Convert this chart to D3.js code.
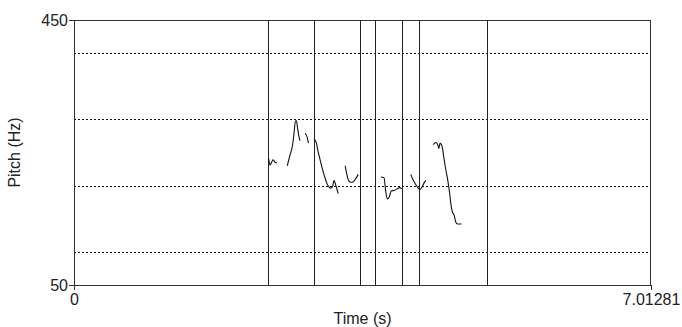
<!DOCTYPE html>
<html>
<head>
<meta charset="utf-8">
<script src="https://cdn.jsdelivr.net/npm/d3@7"></script>
<style>
  body { margin: 0; background: #fff; }
  text { font-family: "Liberation Sans", Arial, sans-serif; fill: #222; }
</style>
</head>
<body>
<svg id="chart" width="682" height="327"></svg>
<script>
// axis range
const timeMax = 7.01281;
const pitchMin = 50;
const pitchMax = 450;
const gridPitches = [100, 200, 300, 400];

// interval boundaries (s)
const boundaries = [2.358, 2.911, 3.476, 3.664, 3.990, 4.191, 5.023];

// pitch contour pieces: [time (s), pitch (Hz)]
const seg1 = [[2.366, 241], [2.382, 231], [2.398, 234], [2.419, 239], [2.439, 236], [2.464, 234]];
const seg2 = [[2.592, 230], [2.625, 246], [2.656, 261], [2.674, 279], [2.692, 298], [2.704, 298],
              [2.716, 288], [2.731, 276], [2.747, 268]];
const seg3 = [[2.811, 279], [2.836, 272], [2.850, 264]];
const seg4 = [[2.917, 270], [2.945, 265], [2.959, 256], [2.981, 244], [3.011, 229], [3.045, 214],
              [3.075, 203], [3.099, 198], [3.120, 196], [3.144, 199], [3.160, 208], [3.176, 203],
              [3.193, 196], [3.211, 188]];
const seg5 = [[3.296, 230], [3.318, 216], [3.336, 208], [3.363, 205], [3.395, 206], [3.427, 211], [3.455, 217]];
const seg6 = [[3.731, 213], [3.768, 212], [3.788, 192], [3.808, 180], [3.829, 182], [3.855, 192],
              [3.895, 193], [3.926, 195], [3.952, 197], [3.983, 195]];
const seg7 = [[4.093, 217], [4.124, 208], [4.157, 201], [4.185, 196], [4.205, 194], [4.226, 197],
              [4.250, 203], [4.276, 208]];
const seg8 = [[4.367, 262], [4.396, 265], [4.420, 262], [4.434, 256], [4.448, 264], [4.460, 263],
              [4.479, 256], [4.497, 241], [4.519, 224], [4.543, 208], [4.564, 190], [4.582, 171],
              [4.600, 160], [4.621, 155], [4.640, 145], [4.661, 142], [4.685, 142], [4.710, 142]];
const segments = [seg1, seg2, seg3, seg4, seg5, seg6, seg7, seg8];

var svg = d3.select("#chart");

const plotLeft = 74, plotRight = 651, plotTop = 20, plotBottom = 285;

const x = d3.scaleLinear().domain([0, timeMax]).range([plotLeft, plotRight]);
const y = d3.scaleLinear().domain([pitchMin, pitchMax]).range([plotBottom, plotTop]);

// dotted grid
svg.selectAll(".grid").data(gridPitches).enter()
    .append("line")
    .attr("x1", plotLeft).attr("x2", plotRight)
    .attr("y1", d => Math.round(y(d)) + 0.5).attr("y2", d => Math.round(y(d)) + 0.5)
    .attr("stroke", "#111")
    .attr("stroke-width", 1)
    .attr("stroke-dasharray", "2,2");

// interval boundaries
svg.selectAll(".bound").data(boundaries).enter()
    .append("line")
    .attr("x1", d => Math.round(x(d)) + 0.5).attr("x2", d => Math.round(x(d)) + 0.5)
    .attr("y1", plotTop).attr("y2", plotBottom)
    .attr("stroke", "#222")
    .attr("stroke-width", 1);

// pitch contour
const line = d3.line().x(d => x(d[0])).y(d => y(d[1])).curve(d3.curveMonotoneX);
svg.selectAll(".pitch").data(segments).enter()
    .append("path")
    .attr("d", line)
    .attr("fill", "none")
    .attr("stroke", "#111")
    .attr("stroke-width", 1.1);

// frame
svg.append("rect")
    .attr("x", plotLeft + 0.5).attr("y", plotTop + 0.5)
    .attr("width", plotRight - plotLeft - 1).attr("height", plotBottom - plotTop)
    .attr("fill", "none")
    .attr("stroke", "#333")
    .attr("stroke-width", 1);

// axes: only the end values
const yAxis = d3.axisLeft(y).tickValues([pitchMin, pitchMax]).tickSize(5).tickPadding(1).tickFormat(d3.format("d"));
const xAxis = d3.axisBottom(x).tickValues([0, timeMax]).tickSize(5).tickPadding(4).tickFormat(d => d === 0 ? "0" : String(timeMax));

svg.append("g").attr("transform", `translate(${plotLeft},0)`).call(yAxis)
    .call(g => g.select(".domain").remove())
    .call(g => g.selectAll("text").style("font-size", "16px").attr("fill", "#222"))
    .call(g => g.selectAll("line").attr("stroke", "#333"));

svg.append("g").attr("transform", `translate(0,${plotBottom})`).call(xAxis)
    .call(g => g.select(".domain").remove())
    .call(g => g.selectAll("text").style("font-size", "16px").attr("fill", "#222"))
    .call(g => g.selectAll("line").attr("stroke", "#333"));

// axis titles
svg.append("text")
    .attr("x", (plotLeft + plotRight) / 2).attr("y", 324)
    .attr("text-anchor", "middle")
    .style("font-size", "16px")
    .text("Time (s)");

svg.append("text")
    .attr("transform", `translate(20,${(plotTop + plotBottom) / 2}) rotate(-90)`)
    .attr("text-anchor", "middle")
    .style("font-size", "16px")
    .text("Pitch (Hz)");
</script>
</body>
</html>
